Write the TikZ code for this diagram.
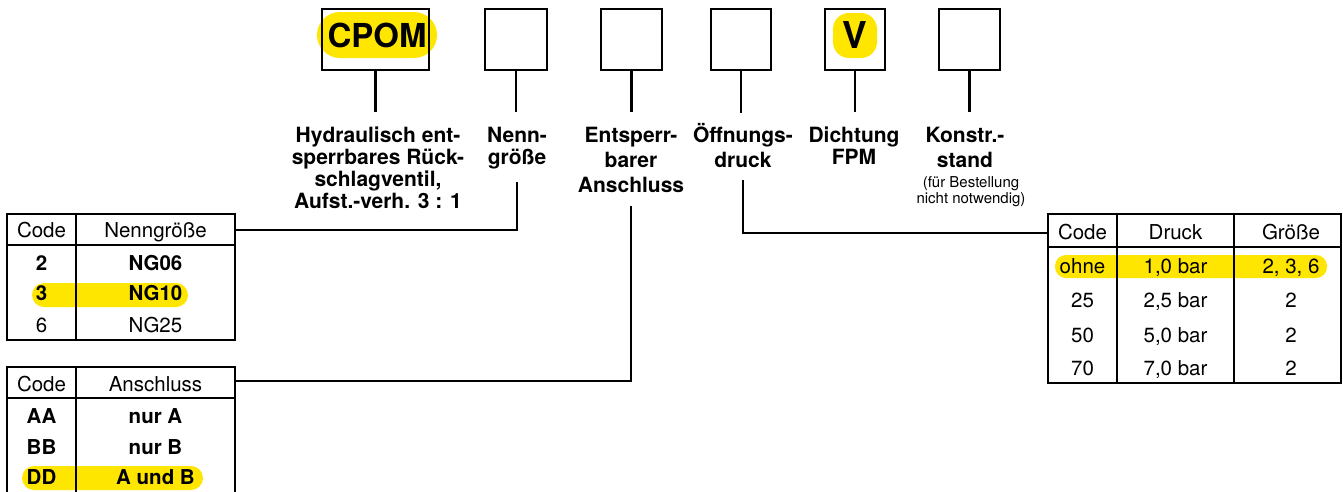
\documentclass[tikz,border=0pt]{standalone}
\usepackage{fontspec}
\setmainfont{TeX Gyre Heros}
\definecolor{HiYellow}{RGB}{255,230,0}

\begin{document}
\begin{tikzpicture}[x=1pt,y=-1pt,
  bx/.style={draw,line width=2.2pt,minimum height=61pt,inner sep=0pt},
  hl/.style={fill=HiYellow,inner sep=0pt},
  lbl/.style={align=center,anchor=base,inner sep=0pt,font=\bfseries\fontsize{21}{22}\selectfont},
  lblw/.style={lbl,font=\bfseries\fontsize{21}{25}\selectfont},
  note/.style={align=center,anchor=base,inner sep=0pt,font=\fontsize{15}{13.5}\selectfont},
  cell/.style={anchor=base,inner sep=0pt,font=\fontsize{20.5}{22}\selectfont},
  bcell/.style={cell,font=\bfseries\fontsize{20.5}{22}\selectfont},
  grid/.style={line width=2.2pt},
  con/.style={line width=2.2pt}]
\useasboundingbox (0,0) rectangle (1343,491);

% type code boxes
\node[hl,rounded corners=23pt,minimum width=120pt,minimum height=46pt,
  font=\bfseries\fontsize{33}{36}\selectfont] (hlA) at (377,35) {CPOM};
\node[hl,rounded corners=16pt,minimum width=44pt,minimum height=45pt,
  font=\bfseries\fontsize{37}{40}\selectfont] (hlE) at (855,35.5) {V};
\node[bx,minimum width=107pt] (bxA) at (375.5,39.5) {};
\node[bx,minimum width=62pt] (bxB) at (516,39.5) {};
\node[bx,minimum width=61pt] (bxC) at (631.5,39.5) {};
\node[bx,minimum width=60pt] (bxD) at (741,39.5) {};
\node[bx,minimum width=60pt] (bxE) at (855,39.5) {};
\node[bx,minimum width=61pt] (bxF) at (969.5,39.5) {};

% labels (base = last line)
\node[lbl] (lblA) at (378,208) {Hydraulisch ent-\\sperrbares Rück-\\schlagventil,\\Aufst.-verh. 3 : 1};
\node[lbl] (lblB) at (517,164) {Nenn-\\größe};
\node[lblw] (lblC) at (631,192) {Entsperr-\\barer\\Anschluss};
\node[lblw] (lblD) at (743,167) {Öffnungs-\\druck};
\node[lbl] (lblE) at (854,164) {Dichtung\\FPM};
\node[lblw] (lblF) at (965,167) {Konstr.-\\stand};
\node[note] (noteF) at (971,203) {(für Bestellung\\nicht notwendig)};

\draw[con,shorten >=14pt] (bxA.south) -- (bxA.south |- lblA.north);
\draw[con,shorten >=14pt] (bxB.south) -- (bxB.south |- lblB.north);
\draw[con,shorten >=14pt] (bxC.south) -- (bxC.south |- lblC.north);
\draw[con,shorten >=10pt] (bxD.south) -- (bxD.south |- lblD.north);
\draw[con,shorten >=14pt] (bxE.south) -- (bxE.south |- lblE.north);
\draw[con,shorten >=14pt] (bxF.south) -- (bxF.south |- lblF.north);

% table highlights
\node[hl,rounded corners=12pt,minimum width=156pt,minimum height=24pt] (hlN) at (110,295) {};
\node[hl,rounded corners=12pt,minimum width=181pt,minimum height=24pt] (hlAn) at (112.5,478) {};
\node[hl,rounded corners=11pt,minimum width=272pt,minimum height=23pt] (hlDr) at (1191,266.5) {};

% tables
\draw[grid] (7,214) rectangle (235,340) (7,245) -- (235,245) (76,214) -- (76,340);
\draw[grid] (7,493) -- (7,367) -- (235,367) -- (235,493) (7,398) -- (235,398) (76,367) -- (76,493);
\draw[grid] (1048,214) rectangle (1341,383) (1048,247) -- (1341,247)
  (1117,214) -- (1117,383) (1234,214) -- (1234,383);

\coordinate (inN) at (235,230);
\coordinate (inAn) at (235,381);
\coordinate (inDr) at (1048,233);
\draw[con,shorten <=13pt] (lblB.south) |- (inN);
\draw[con,shorten <=14pt] (lblC.south) |- (inAn);
\draw[con,shorten <=13pt] (lblD.south) |- (inDr);

% Nenngroesse
\node[cell] (n0a) at (41.5,237.5) {Code};  \node[cell] (n0b) at (155.5,237.5) {Nenngröße};
\node[bcell] (n1a) at (41.5,270.5) {2};    \node[bcell] (n1b) at (155.5,270.5) {NG06};
\node[bcell] (n2a) at (41.5,300.5) {3};    \node[bcell] (n2b) at (155.5,300.5) {NG10};
\node[cell] (n3a) at (41.5,332.5) {6};     \node[cell] (n3b) at (155.5,332.5) {NG25};

% Anschluss
\node[cell] (a0a) at (41.5,391) {Code};    \node[cell] (a0b) at (155.5,391) {Anschluss};
\node[bcell] (a1a) at (41.5,423.5) {AA};   \node[bcell] (a1b) at (155.5,423.5) {nur A};
\node[bcell] (a2a) at (41.5,454.5) {BB};   \node[bcell] (a2b) at (155.5,454.5) {nur B};
\node[bcell] (a3a) at (41.5,484.5) {DD};   \node[bcell] (a3b) at (155.5,484.5) {A und B};

% Oeffnungsdruck
\node[cell] (d0a) at (1082.5,239.5) {Code}; \node[cell] (d0b) at (1175.5,239.5) {Druck};   \node[cell] (d0c) at (1291,239.5) {Größe};
\node[cell] (d1a) at (1082.5,273.5) {ohne}; \node[cell] (d1b) at (1175.5,273.5) {1,0 bar}; \node[cell] (d1c) at (1291,273.5) {2, 3, 6};
\node[cell] (d2a) at (1082.5,307.5) {25};   \node[cell] (d2b) at (1175.5,307.5) {2,5 bar}; \node[cell] (d2c) at (1291,307.5) {2};
\node[cell] (d3a) at (1082.5,342.5) {50};   \node[cell] (d3b) at (1175.5,342.5) {5,0 bar}; \node[cell] (d3c) at (1291,342.5) {2};
\node[cell] (d4a) at (1082.5,375) {70};     \node[cell] (d4b) at (1175.5,375) {7,0 bar};   \node[cell] (d4c) at (1291,375) {2};

\end{tikzpicture}
\end{document}
